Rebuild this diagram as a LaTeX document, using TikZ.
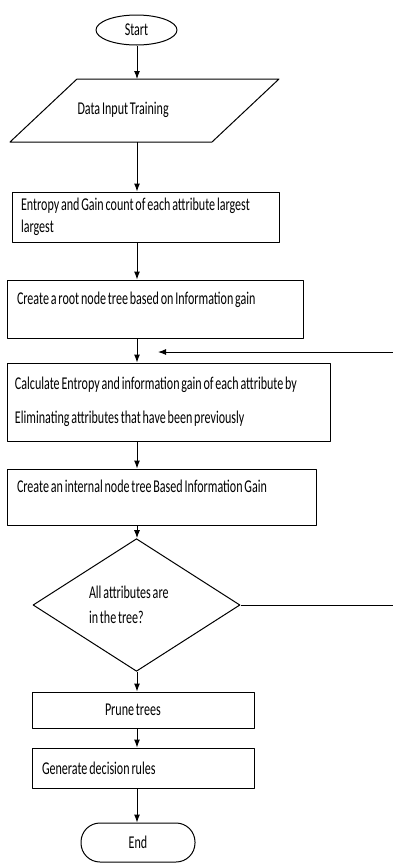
\documentclass[tikz,border=0pt]{standalone}
\usepackage{fontspec}
\setmainfont{Carlito}[FakeStretch=0.67,WordSpace=0.67]
\usetikzlibrary{shapes.geometric,arrows.meta}
\begin{document}
\begin{tikzpicture}[x=1pt,y=-1pt,line width=1pt,line join=round,
	font=\fontsize{18}{21.5}\selectfont,>={Latex[length=8pt,width=6pt]},
	blk/.style={draw,rectangle,inner ysep=0pt,inner xsep=10pt,align=flush left}]
	\useasboundingbox (0,0) rectangle (392,863);
	\node[draw,ellipse,inner sep=0pt,minimum width=81pt,minimum height=30pt] (start) at (136.5,30) {Start};
	% parallelogram of the input step
	\draw (77,79) coordinate (inTL) -- (279,79) -- (212,142) coordinate (inBR) -- (10,142) -- cycle;
	\node[anchor=west,inner sep=0pt] (input) at (77,110) {Data Input Training};
	\node[blk,inner xsep=9pt,text width=249pt,minimum height=50pt] (entropy) at (145.5,217)
	{Entropy and Gain count of each attribute largest\\largest};
	\node[blk,text width=276pt,minimum height=58pt] (root) at (155,309)
	{Create a root node tree based on Information gain\\ \mbox{}};
	\node[blk,inner xsep=8pt,text width=307pt,minimum height=78pt] (calc) at (168.5,402)
	{Calculate Entropy and information gain of each attribute by\\[13pt]
	Eliminating attributes that have been previously};
	\node[blk,text width=289pt,minimum height=56pt] (internal) at (161.5,497)
	{Create an internal node tree Based Information Gain\\ \mbox{}};
	\node[draw,diamond,inner sep=0pt,minimum width=207pt,minimum height=126pt,
	text width=95pt,align=flush left] (check) at (136.5,605) {All attributes are\\[3.5pt]in the tree?};
	\node[blk,inner xsep=73pt,text width=76pt,minimum height=36pt] (prune) at (143,710) {Prune trees};
	\node[blk,text width=202pt,minimum height=40pt] (rules) at (143,768) {Generate decision rules};
	\node[draw,rectangle,rounded corners=19pt,minimum width=114pt,minimum height=39pt] (end) at (138,842.5) {End};
	\coordinate (axis) at (137,0);
	\coordinate (loop) at (396,0);
	\coordinate (back) at (158,352);
	\draw[->] (axis |- start.south) -- (axis |- inTL);
	\draw[->] (axis |- inBR) -- (axis |- entropy.north);
	\draw[->] (axis |- entropy.south) -- (axis |- root.north);
	\draw[->] (axis |- root.south) -- (axis |- calc.north);
	\draw[->] (axis |- calc.south) -- (axis |- internal.north);
	\draw[->] (axis |- internal.south) -- (axis |- check.north);
	\draw[->] (axis |- check.south) -- (axis |- prune.north);
	\draw[->] (axis |- prune.south) -- (axis |- rules.north);
	\draw[->] (axis |- rules.south) -- (axis |- end.north);
	\draw[->] (check.east) -- (check.east -| loop) |- (back);
\end{tikzpicture}
\end{document}
